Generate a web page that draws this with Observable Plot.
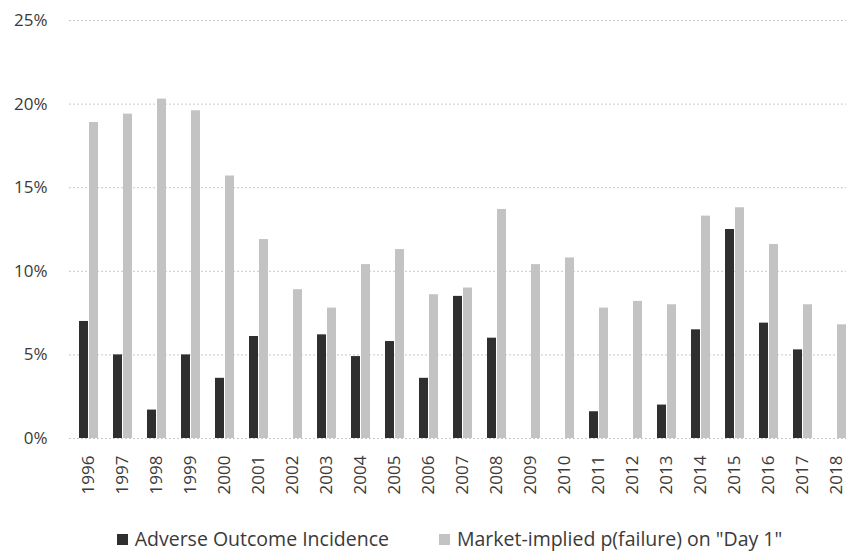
<!DOCTYPE html>
<html>
<head>
<meta charset="utf-8">
<script src="https://cdn.jsdelivr.net/npm/d3@7"></script>
<script src="https://cdn.jsdelivr.net/npm/@observablehq/plot@0.6"></script>
<style>
  html, body { margin: 0; padding: 0; background: #fff; overflow: hidden; }
  #chart { width: 846px; }
  .legend { display: flex; justify-content: center; gap: 50px; font-family: "Open Sans", sans-serif; font-size: 19.5px; line-height: 26px; color: #3a3a3a; margin-top: 16px; padding-left: 53px; white-space: nowrap; }
  .legend span.item { display: inline-flex; align-items: center; }
  .legend span.sw { display: inline-block; width: 11px; height: 11px; margin-right: 7px; }
</style>
</head>
<body>
<div id="chart"></div>
<script>
const years = ["1996","1997","1998","1999","2000","2001","2002","2003","2004","2005","2006","2007","2008","2009","2010","2011","2012","2013","2014","2015","2016","2017","2018"];
const adverse = [7.0, 5.0, 1.7, 5.0, 3.6, 6.1, null, 6.2, 4.9, 5.8, 3.6, 8.5, 6.0, null, null, 1.6, null, 2.0, 6.5, 12.5, 6.9, 5.3, null];
const market = [18.9, 19.4, 20.3, 19.6, 15.7, 11.9, 8.9, 7.8, 10.4, 11.3, 8.6, 9.0, 13.7, 10.4, 10.8, 7.8, 8.2, 8.0, 13.3, 13.8, 11.6, 8.0, 6.8];
const yTicks = [0, 5, 10, 15, 20, 25];
const seriesNames = ["Adverse Outcome Incidence", "Market-implied p(failure) on \"Day 1\""];
const seriesColors = ["#2f2f2f", "#c3c3c3"];

const data = years.map((y, i) => ({year: y, adverse: adverse[i], market: market[i]}));

const chart = Plot.plot({
  width: 846,
  height: 510,
  marginLeft: 69,
  marginRight: -9.5,
  marginTop: 20,
  marginBottom: 72,
  style: {fontFamily: "'Open Sans', sans-serif", fontSize: "17px", color: "#3a3a3a", background: "#fff"},
  x: {domain: years, paddingInner: 0.45, paddingOuter: 0.225, align: 0.5, tickRotate: -90, tickSize: 0, tickPadding: 17, label: null},
  y: {domain: [0, 25], ticks: yTicks, tickFormat: d => d + "%", tickSize: 0, tickPadding: 22, label: null},
  marks: [
    Plot.ruleY(yTicks, {stroke: "#c8c8c8", strokeDasharray: "2,2"}),
    Plot.barY(data.filter(d => d.adverse != null), {x: "year", y: "adverse", fill: seriesColors[0], insetRight: 10}),
    Plot.barY(data, {x: "year", y: "market", fill: seriesColors[1], insetLeft: 10})
  ]
});
document.getElementById("chart").appendChild(chart);

const legend = document.createElement("div");
legend.className = "legend";
seriesNames.forEach((name, i) => {
  const item = document.createElement("span");
  item.className = "item";
  const sw = document.createElement("span");
  sw.className = "sw";
  sw.style.background = seriesColors[i];
  item.appendChild(sw);
  item.appendChild(document.createTextNode(name));
  legend.appendChild(item);
});
document.getElementById("chart").appendChild(legend);
</script>
</body>
</html>
